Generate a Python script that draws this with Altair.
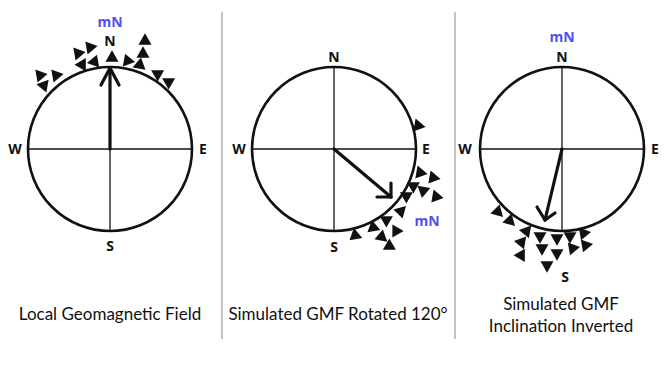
import altair as alt
import pandas as pd

# ---------- data (image-pixel coordinates, y grows downward) ----------
circle_cx = [110, 334, 562]
circle_cy = [149, 149, 149]
radius = 82

# compass letters per panel
lab_text = ["N", "E", "S", "W", "N", "E", "S", "W", "N", "E", "S", "W"]
lab_x = [110, 203, 110, 15, 334, 426, 334, 239, 562, 655, 565, 465]
lab_y = [42, 150, 247, 150, 58, 150, 248, 150, 58, 150, 278, 150]

mn_x = [110, 427, 562]
mn_y = [23, 222, 38]

title_text = ["Local Geomagnetic Field", "Simulated GMF Rotated 120°",
              "Simulated GMF", "Inclination Inverted"]
title_x = [110, 338, 561, 561]
title_y = [315, 315, 305, 327]

# arrows: shaft + two head arms per panel
arrow_x = [110, 101, 119, 334, 377, 391, 562, 537, 555]
arrow_y = [149, 85, 85, 149, 197, 183, 149, 207, 213]
arrow_x2 = [110, 110, 110, 391, 391, 391, 545, 545, 545]
arrow_y2 = [69, 68, 68, 197, 197, 197, 220, 220, 220]

# field-line triangles (x, y, orientation in degrees clockwise from up)
tri_x = [42, 45, 58, 80, 92, 83, 95, 112, 127, 140, 143, 145, 156, 167,
         420, 422, 435, 415, 425, 438, 408, 402, 388, 375, 398, 383, 357, 391,
         499, 511, 527, 540, 557, 570, 583, 522, 542, 557, 572, 585, 522, 547]
tri_y = [75, 84, 75, 53, 47, 63, 60, 56, 59, 63, 52, 39, 73, 81,
         126, 173, 178, 185, 190, 197, 195, 210, 219, 228, 231, 238, 236, 247,
         213, 222, 233, 238, 240, 238, 235, 244, 250, 255, 250, 247, 257, 267]
tri_angle = [80, 40, 80, 80, 80, 30, 20, 0, 340, 10, 0, 0, 300, 300,
             100, 100, 100, 60, 70, 100, 60, 45, 60, 110, 90, 130, 110, 120,
             135, 135, 160, 180, 180, 180, 200, 160, 180, 180, 200, 200, 150, 180]

divider_x = [222, 455]
divider_y0 = 12
divider_y1 = 339

# ---------- frames ----------
circles = pd.DataFrame({"x": circle_cx, "y": circle_cy})
cross = pd.DataFrame({
    "x": [c - radius for c in circle_cx] + circle_cx,
    "x2": [c + radius for c in circle_cx] + circle_cx,
    "y": circle_cy + [c - radius for c in circle_cy],
    "y2": circle_cy + [c + radius for c in circle_cy],
})
labels = pd.DataFrame({"x": lab_x, "y": lab_y, "t": lab_text})
mn = pd.DataFrame({"x": mn_x, "y": mn_y, "t": ["mN"] * 3})
titles = pd.DataFrame({"x": title_x, "y": title_y, "t": title_text})
arrows = pd.DataFrame({"x": arrow_x, "y": arrow_y, "x2": arrow_x2, "y2": arrow_y2})
tris = pd.DataFrame({"x": tri_x, "y": tri_y, "a": tri_angle})
dividers = pd.DataFrame({"x": divider_x, "y": [divider_y0] * 2, "y2": [divider_y1] * 2})

X = alt.X("x:Q", scale=alt.Scale(domain=[8, 659], nice=False, zero=False), axis=None)
Y = alt.Y("y:Q", scale=alt.Scale(domain=[359, 8], nice=False, zero=False), axis=None)

div_layer = alt.Chart(dividers).mark_rule(color="#9a9a9a", strokeWidth=1.2).encode(
    x=X, y=Y, y2="y2:Q")
cross_layer = alt.Chart(cross).mark_rule(color="#111", strokeWidth=1.3).encode(
    x=X, y=Y, x2="x2:Q", y2="y2:Q")
circle_layer = alt.Chart(circles).mark_point(
    shape="circle", filled=False, color="#111", strokeWidth=2.6,
    size=(2 * radius) ** 2, opacity=1).encode(x=X, y=Y)
arrow_layer = alt.Chart(arrows).mark_rule(
    color="#111", strokeWidth=3.2, strokeCap="round").encode(
    x=X, y=Y, x2="x2:Q", y2="y2:Q")
tri_layer = alt.Chart(tris).mark_point(
    shape="triangle-up", filled=True, color="#111", size=170, opacity=1).encode(
    x=X, y=Y, angle=alt.Angle("a:Q", scale=None))
label_layer = alt.Chart(labels).mark_text(
    font="Open Sans", fontWeight="bold", fontSize=14, color="#111",
    baseline="middle", align="center").encode(x=X, y=Y, text="t:N")
mn_layer = alt.Chart(mn).mark_text(
    font="Open Sans", fontWeight="bold", fontSize=14, color="#4f4ff2",
    baseline="middle", align="center").encode(x=X, y=Y, text="t:N")
title_layer = alt.Chart(titles).mark_text(
    font="Lato", fontSize=17, color="#111",
    baseline="middle", align="center").encode(x=X, y=Y, text="t:N")

chart = alt.layer(
    div_layer, cross_layer, circle_layer, arrow_layer, tri_layer,
    label_layer, mn_layer, title_layer
).properties(
    width=651, height=351, padding=0,
    autosize=alt.AutoSizeParams(type="fit", contains="padding"),
    background="white",
).configure_view(stroke=None)

chart.save("out.html", embed_options={"renderer": "svg", "actions": False})
